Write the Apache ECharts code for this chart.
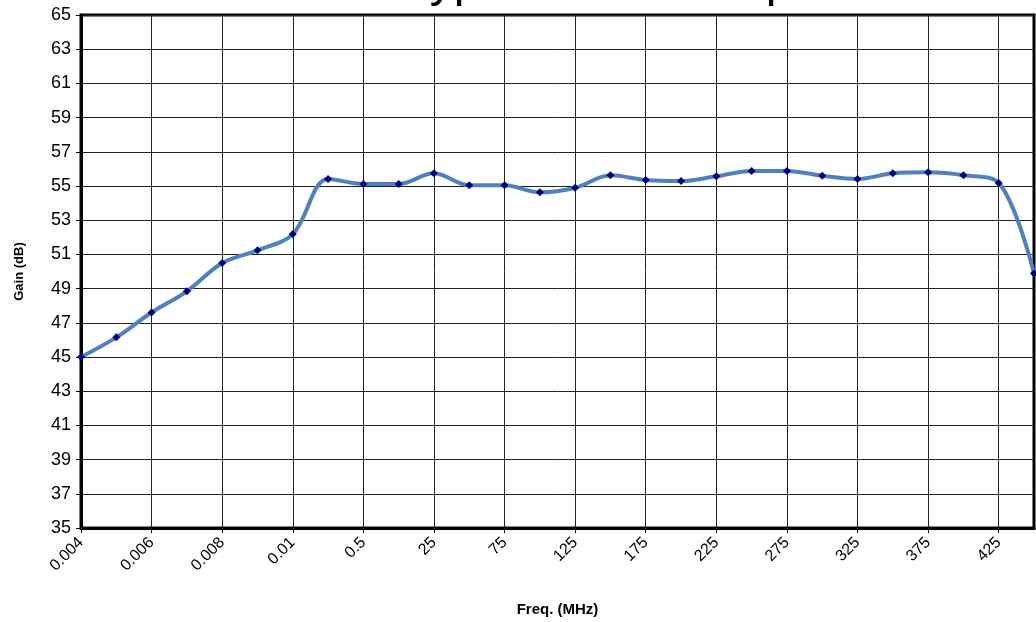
<!DOCTYPE html>
<html>
<head>
<meta charset="utf-8">
<script src="https://cdn.jsdelivr.net/npm/echarts@6/dist/echarts.min.js"></script>
<style>
html,body{margin:0;padding:0;background:#fff;}
#chart{width:1036px;height:622px;}
</style>
</head>
<body>
<div id="chart"></div>
<script>
const titleText = 'Typical Gain Response';
const categories = ['0.004','0.005','0.006','0.007','0.008','0.009','0.01','0.1','0.5','1','25','50','75','100','125','150','175','200','225','250','275','300','325','350','375','400','425','450'];
const gain = [45.0,46.15,47.6,48.84,50.5,51.24,52.19,55.41,55.12,55.12,55.74,55.04,55.04,54.63,54.9,55.63,55.35,55.29,55.57,55.88,55.88,55.6,55.41,55.74,55.8,55.63,55.18,49.89];
const yMin = 35, yMax = 65, yStep = 2;

const chart = echarts.init(document.getElementById('chart'));
chart.setOption({
  animation: false,
  backgroundColor: '#fff',
  title: {
    text: titleText,
    left: 398,
    top: -46,
    textStyle: {fontFamily: 'Liberation Sans, Arial', fontSize: 48, fontWeight: 'normal', color: '#000'}
  },
  grid: {
    left: 81, right: 2, top: 15, bottom: 94,
    show: true, borderColor: '#000', borderWidth: 3, containLabel: false
  },
  xAxis: {
    type: 'category',
    data: categories,
    boundaryGap: false,
    name: 'Freq. (MHz)',
    nameLocation: 'middle',
    nameGap: 74,
    nameTextStyle: {fontFamily: 'Liberation Sans, Arial', fontSize: 15, fontWeight: 'bold', color: '#000'},
    axisLine: {show: true, lineStyle: {color: '#000', width: 3}},
    axisTick: {show: true, interval: 1, length: 5, lineStyle: {color: '#000'}},
    axisLabel: {interval: 1, rotate: 45, fontFamily: 'Liberation Sans, Arial', fontSize: 16, color: '#000', margin: 12},
    splitLine: {show: true, interval: 1, lineStyle: {color: '#222', width: 1}}
  },
  yAxis: {
    type: 'value',
    min: yMin, max: yMax, interval: yStep,
    name: 'Gain (dB)',
    nameLocation: 'middle',
    nameGap: 55,
    nameTextStyle: {fontFamily: 'Liberation Sans, Arial', fontSize: 13, fontWeight: 'bold', color: '#000'},
    axisLine: {show: true, lineStyle: {color: '#000', width: 3}},
    axisTick: {show: true, length: 5, lineStyle: {color: '#000'}},
    axisLabel: {fontFamily: 'Liberation Sans, Arial', fontSize: 18, color: '#000', margin: 10},
    splitLine: {show: true, lineStyle: {color: '#222', width: 1}}
  },
  series: [{
    type: 'line',
    data: gain,
    smooth: 0.35,
    symbol: 'diamond',
    symbolSize: 8,
    itemStyle: {color: '#000080'},
    lineStyle: {color: '#4f81bd', width: 4},
    z: 5
  }]
});
</script>
</body>
</html>
